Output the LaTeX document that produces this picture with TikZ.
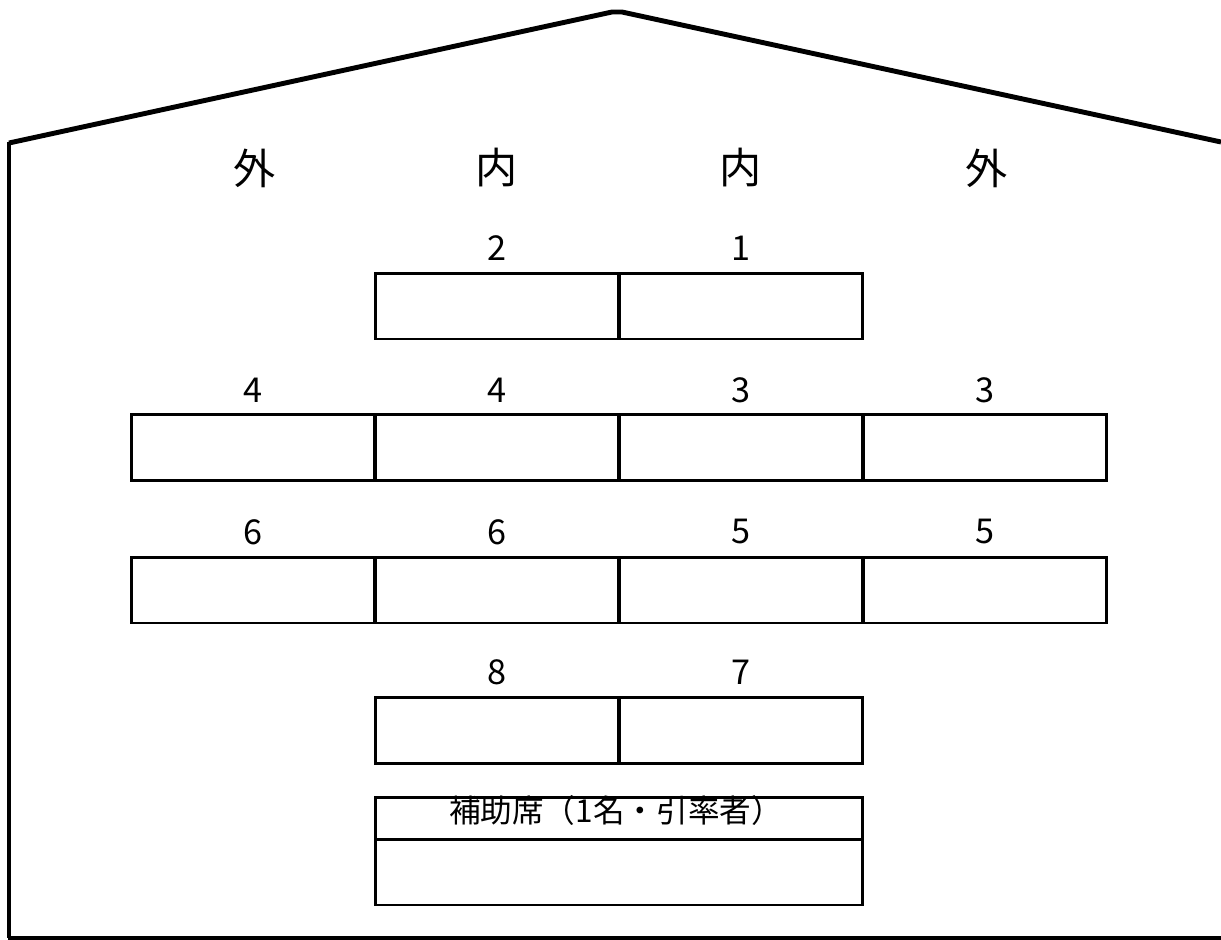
\documentclass[tikz,border=0pt]{standalone}
\usepackage{fontspec}
\setmainfont{Noto Sans CJK JP}
\tikzset{
  seat/.style={draw, line width=1.7pt, minimum width=4.88cm, minimum height=1.32cm, inner sep=0pt},
  side/.style={font=\fontsize{24}{24}\selectfont},
  num/.style={font=\fontsize{19.5}{19.5}\selectfont},
}
\begin{document}
\begin{tikzpicture}[x=0.02cm, y=-0.02cm]
	\useasboundingbox (0,0) rectangle (1221,940);

	%building
	\draw[line width=2.8pt] (1221,142) -- (622,12) -- (612,12) -- (9,143);
	\draw[line width=2.3pt] (9,142) -- (9,938);
	\draw[line width=1.8pt] (8,938) -- (1221,938);

	%sides
	\node[side] (out1) at (255,168) {外};
	\node[side] (in1) at (497,168) {内};
	\node[side] (in2) at (741,168) {内};
	\node[side] (out2) at (987,168) {外};

	%row 1
	\node[seat] (s2) at (497,306) {};
	\node[seat] (s1) at (741,306) {};
	\node[num] (l2) at (497,248) {2};
	\node[num] (l1) at (741,248) {1};

	%row 2
	\node[seat] (s4a) at (253,447.5) {};
	\node[seat] (s4b) at (497,447.5) {};
	\node[seat] (s3a) at (741,447.5) {};
	\node[seat] (s3b) at (985,447.5) {};
	\node[num] (l4a) at (253,390) {4};
	\node[num] (l4b) at (497,390) {4};
	\node[num] (l3a) at (741,390) {3};
	\node[num] (l3b) at (985,390) {3};

	%row 3
	\node[seat] (s6a) at (253,590) {};
	\node[seat] (s6b) at (497,590) {};
	\node[seat] (s5a) at (741,590) {};
	\node[seat] (s5b) at (985,590) {};
	\node[num] (l6a) at (253,532) {6};
	\node[num] (l6b) at (497,532) {6};
	\node[num] (l5a) at (741,532) {5};
	\node[num] (l5b) at (985,532) {5};

	%row 4
	\node[seat] (s8) at (497,730.5) {};
	\node[seat] (s7) at (741,730.5) {};
	\node[num] (l8) at (497,672) {8};
	\node[num] (l7) at (741,672) {7};

	%extra seat
	\node[seat, minimum width=9.74cm, minimum height=0.84cm] (hojo) at (619,818) {};
	\node[font=\fontsize{18}{18}\selectfont] (hojotext) at (616,810) {補助席（1名・引率者）};
	\node[seat, minimum width=9.74cm] (hojoseat) at (619,872) {};
\end{tikzpicture}
\end{document}
